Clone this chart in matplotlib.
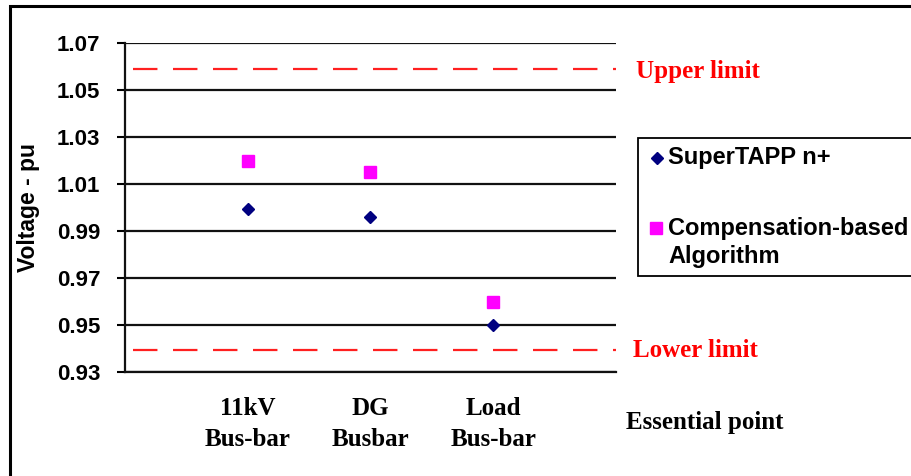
import numpy as np
import matplotlib.pyplot as plt
from matplotlib.patches import Rectangle
from matplotlib.lines import Line2D

# essential points along the feeder
points = ['11kV\nBus-bar', 'DG\nBusbar', 'Load\nBus-bar']
supertapp = [0.9995, 0.996, 0.950]
compensation = [1.020, 1.015, 0.960]
upper_limit = 1.059
lower_limit = 0.9395
yticks = [0.93, 0.95, 0.97, 0.99, 1.01, 1.03, 1.05, 1.07]

W, H = 912, 476
fig = plt.figure(figsize=(W / 100, H / 100), dpi=100)
ax = fig.add_axes([125 / W, 1 - 372 / H, 491 / W, 329 / H])

x = np.arange(1, len(points) + 1)
ax.plot(x, supertapp, 'D', color='#000080', markersize=6, linestyle='none', zorder=4)
ax.plot(x, compensation, 's', color='#ff00ff', markersize=8, linestyle='none', zorder=4)

ax.set_xlim(0, 4)
ax.set_ylim(0.93, 1.07)
ax.set_yticks(yticks)
ax.set_yticklabels([f'{v:.2f}' for v in yticks], fontsize=16, fontweight='bold',
                   family='Liberation Sans')
ax.set_xticks(x)
ax.set_xticklabels(points, fontsize=18, fontweight='bold', family='Liberation Serif',
                   linespacing=1.45)
ax.tick_params(axis='x', length=0, pad=18)
ax.tick_params(axis='y', direction='out', length=8 * 0.72, width=1.5, pad=12)

ax.grid(axis='y', color='#111111', linewidth=1.6)
ax.set_axisbelow(True)
for s in ['top', 'right']:
    ax.spines[s].set_visible(False)
for s in ['left', 'bottom']:
    ax.spines[s].set_linewidth(1.6)
    ax.spines[s].set_color('#111111')

# voltage limits
for lim in (upper_limit, lower_limit):
    ax.axhline(lim, xmin=0.016, xmax=1, color='#ff2020', linewidth=1.6,
               dashes=(11, 7), zorder=3)
ax.text(1.04, upper_limit - 0.0012, 'Upper limit', transform=ax.get_yaxis_transform(),
        color='red', fontsize=18, fontweight='bold', family='Liberation Serif',
        va='center', ha='left')
ax.text(1.035, lower_limit - 0.0005, 'Lower limit', transform=ax.get_yaxis_transform(),
        color='red', fontsize=18, fontweight='bold', family='Liberation Serif',
        va='center', ha='left')

ax.set_ylabel('Voltage - pu', fontsize=16.5, fontweight='bold', family='Liberation Sans')
ax.yaxis.set_label_coords((28 - 125) / 491, (372 - 208) / 329)
ax.yaxis.label.set_va('center')
ax.set_xlabel('Essential point', fontsize=18, fontweight='bold', family='Liberation Serif')
ax.xaxis.set_label_coords((705 - 125) / 491, -(423 - 372) / 329)
ax.xaxis.label.set_va('center')

# legend box, running off the right edge
fig.add_artist(Rectangle((638 / W, 1 - 276 / H), 0.4, 138 / H, transform=fig.transFigure,
                         facecolor='white', edgecolor='black', linewidth=1.3))
fig.add_artist(Line2D([657 / W], [1 - 158 / H], marker='D', color='#000080',
                      markersize=6, transform=fig.transFigure))
fig.add_artist(Line2D([656 / W], [1 - 228 / H], marker='s', color='#ff00ff',
                      markersize=8, transform=fig.transFigure))
leg_font = dict(fontsize=17, fontweight='bold', family='Liberation Sans', va='center')
fig.text(668 / W, 1 - 158 / H, 'SuperTAPP n+', **leg_font)
fig.text(668 / W, 1 - 228 / H, 'Compensation-based', **leg_font)
fig.text(668 / W, 1 - 257 / H, 'Algorithm', **leg_font)

# outer frame
fig.add_artist(Rectangle((10 / W, -0.1), 1.2, 1.1 - 6 / H, transform=fig.transFigure,
                         facecolor='none', edgecolor='black', linewidth=2.2))

fig.savefig('out.png', dpi=100)
